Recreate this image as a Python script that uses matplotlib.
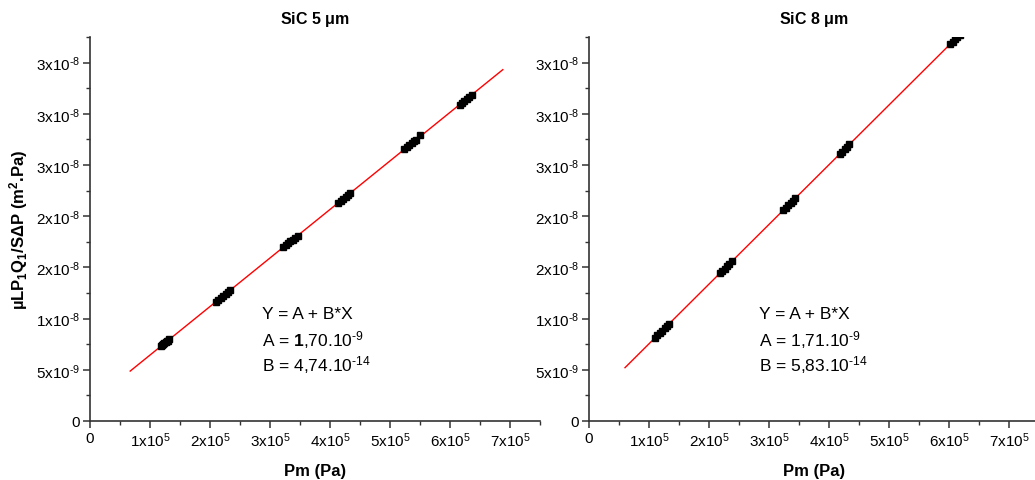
import numpy as np
import matplotlib.pyplot as plt
from matplotlib.ticker import MultipleLocator, FixedLocator

plt.rcParams['font.family'] = ['Liberation Sans', 'DejaVu Sans']
plt.rcParams['mathtext.fontset'] = 'custom'
plt.rcParams['mathtext.rm'] = 'Liberation Sans'
plt.rcParams['mathtext.bf'] = 'Liberation Sans:bold'
plt.rcParams['mathtext.it'] = 'Liberation Sans:italic'

# SiC 5 um data (Pm in Pa, permeability term in m2.Pa)
pm_5 = [1.18e5, 1.20e5, 1.22e5, 1.24e5, 1.26e5, 1.28e5, 1.30e5, 1.32e5,
        2.10e5, 2.14e5, 2.18e5, 2.22e5, 2.26e5, 2.30e5, 2.34e5,
        3.22e5, 3.26e5, 3.30e5, 3.34e5, 3.38e5, 3.42e5, 3.46e5,
        4.14e5, 4.18e5, 4.22e5, 4.26e5, 4.30e5, 4.34e5,
        5.24e5, 5.28e5, 5.32e5, 5.36e5, 5.40e5, 5.44e5, 5.50e5,
        6.16e5, 6.20e5, 6.24e5, 6.28e5, 6.32e5, 6.36e5]
k_5 = [7.29e-9, 7.39e-9, 7.48e-9, 7.58e-9, 7.67e-9, 7.77e-9, 7.86e-9, 7.96e-9,
       11.65e-9, 11.84e-9, 12.03e-9, 12.22e-9, 12.41e-9, 12.60e-9, 12.79e-9,
       16.96e-9, 17.15e-9, 17.34e-9, 17.53e-9, 17.72e-9, 17.91e-9, 18.10e-9,
       21.32e-9, 21.51e-9, 21.70e-9, 21.89e-9, 22.08e-9, 22.27e-9,
       26.54e-9, 26.73e-9, 26.92e-9, 27.11e-9, 27.30e-9, 27.49e-9, 27.90e-9,
       30.90e-9, 31.09e-9, 31.28e-9, 31.47e-9, 31.66e-9, 31.85e-9]
fit_5 = (1.70e-9, 4.74e-14)
fit_range_5 = [0.67e5, 6.88e5]

# SiC 8 um data
pm_8 = [1.10e5, 1.14e5, 1.18e5, 1.22e5, 1.26e5, 1.30e5, 1.33e5,
        2.18e5, 2.22e5, 2.26e5, 2.30e5, 2.34e5, 2.38e5,
        3.24e5, 3.28e5, 3.32e5, 3.36e5, 3.40e5, 3.44e5,
        4.18e5, 4.22e5, 4.26e5, 4.30e5, 4.34e5,
        6.02e5, 6.06e5, 6.10e5, 6.14e5, 6.18e5]
k_8 = [8.12e-9, 8.36e-9, 8.59e-9, 8.82e-9, 9.06e-9, 9.29e-9, 9.46e-9,
       14.42e-9, 14.65e-9, 14.89e-9, 15.12e-9, 15.35e-9, 15.59e-9,
       20.60e-9, 20.83e-9, 21.07e-9, 21.30e-9, 21.53e-9, 21.77e-9,
       26.08e-9, 26.31e-9, 26.55e-9, 26.78e-9, 27.01e-9,
       36.81e-9, 37.04e-9, 37.27e-9, 37.51e-9, 37.74e-9]
fit_8 = (1.71e-9, 5.83e-14)
fit_range_8 = [0.60e5, 6.30e5]

x_ticks = [0, 1e5, 2e5, 3e5, 4e5, 5e5, 6e5, 7e5]
x_labels = ['0'] + ['%dx10$^{5}$' % i for i in range(1, 8)]
y_ticks = [0, 0.5e-8, 1.0e-8, 1.5e-8, 2.0e-8, 2.5e-8, 3.0e-8, 3.5e-8]
y_labels = ['0', '5x10$^{‐9}$', '1x10$^{‐8}$', '2x10$^{‐8}$', '2x10$^{‐8}$',
            '3x10$^{‐8}$', '3x10$^{‐8}$', '3x10$^{‐8}$']

fig = plt.figure(figsize=(10.35, 4.81), dpi=100)
ax1 = fig.add_axes([90/1035, 59/481, 450/1035, 384/481])
ax2 = fig.add_axes([589/1035, 59/481, 450/1035, 384/481])

panels = [(ax1, pm_5, k_5, fit_5, fit_range_5, 'SiC 5 $\\mathbf{\\mu}$m',
           ['1,70', '4,74'], 262),
          (ax2, pm_8, k_8, fit_8, fit_range_8, 'SiC 8 $\\mathbf{\\mu}$m',
           ['1,71', '5,83'], 759)]

for ax, px, py, fit, frange, title, vals, tx in panels:
    a, b = fit
    xf = np.array(frange)
    ax.plot(xf, a + b * xf, color='red', lw=1.0, zorder=2)
    ax.plot(px, py, 's', color='black', ms=4.5, mec='black', zorder=3)
    ax.set_xlim(0, 7.5e5)
    ax.set_ylim(0, 3.75e-8)
    ax.xaxis.set_major_locator(FixedLocator(x_ticks))
    ax.set_xticklabels(x_labels)
    ax.xaxis.set_minor_locator(MultipleLocator(0.5e5))
    ax.yaxis.set_major_locator(FixedLocator(y_ticks))
    ax.set_yticklabels(y_labels)
    ax.yaxis.set_minor_locator(MultipleLocator(0.25e-8))
    for s in ['top', 'right']:
        ax.spines[s].set_visible(False)
    for s in ['left', 'bottom']:
        ax.spines[s].set_linewidth(1.2)
        ax.spines[s].set_color('#333333')
    ax.tick_params(which='major', direction='out', length=5, width=1.1,
                   labelsize=11, pad=2, colors='#333333', labelcolor='black')
    ax.tick_params(which='minor', direction='out', length=3, width=1.0,
                   colors='#333333')
    ax.set_title(title, fontsize=11.5, fontweight='bold', pad=10)
    ax.set_xlabel('Pm (Pa)', fontsize=12, fontweight='bold', labelpad=10)

    y0 = 481 - 315
    fig.text(tx/1035, y0/481, 'Y = A + B*X', fontsize=12.5, va='center')
    if ax is ax1:
        fig.text(tx/1035, (y0 - 25)/481,
                 'A = $\\mathbf{1}$,70.10$^{‐9}$', fontsize=12.5, va='center')
    else:
        fig.text(tx/1035, (y0 - 25)/481,
                 'A = %s.10$^{‐9}$' % vals[0], fontsize=12.5, va='center')
    fig.text(tx/1035, (y0 - 50)/481,
             'B = %s.10$^{‐14}$' % vals[1], fontsize=12.5, va='center')

ax1.set_ylabel('µLP$_\\mathbf{1}$Q$_\\mathbf{1}$/SΔP (m$^\\mathbf{2}$.Pa)',
               fontsize=12, fontweight='bold', labelpad=4)

fig.savefig('out.png', dpi=100)
